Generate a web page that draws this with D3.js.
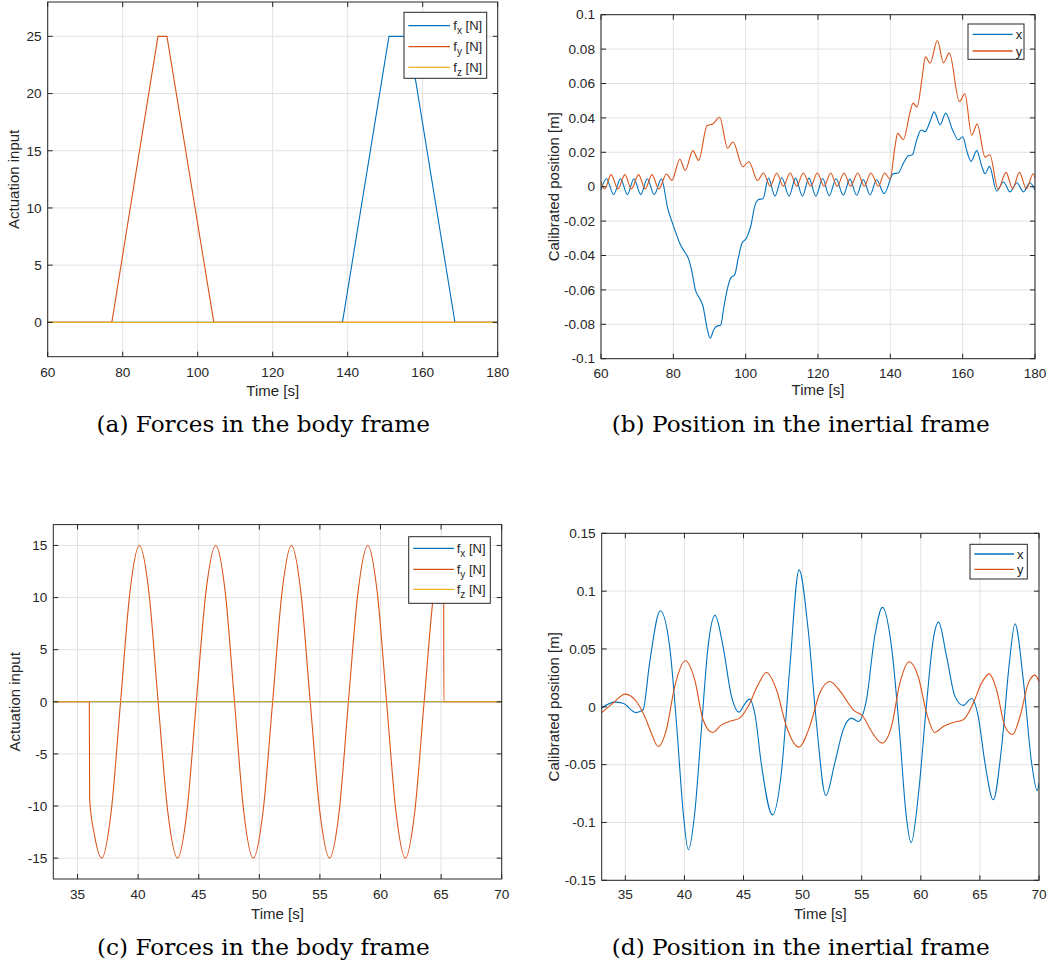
<!DOCTYPE html>
<html><head><meta charset="utf-8">
<script src="https://cdn.jsdelivr.net/npm/d3@7"></script>
<style>body{margin:0;background:#fff}svg{display:block}</style>
</head><body>
<svg id="chart" width="1055" height="967"></svg>
<script>
// ---------------- DATA ----------------
// Panel (a): forces in the body frame (time [s], force [N])
const aFx = [[60,0],[138.6,0],[151,25],[156.2,25],[168.6,0],[180,0]];
const aFy = [[60,0],[77.1,0],[89.4,25],[91.8,25],[104.3,0],[180,0]];
const aFz = [[60,0],[180,0]];

// Panel (b): position in the inertial frame (time [s], position [m])
const bX = [[60,-0.002],[61.5,0.0046],[63.5,-0.0046],[65.4,0.0046],[67.3,-0.0046],[69.1,0.0046],[71,-0.0046],[72.8,0.0046],[74.7,-0.0046],[76.7,0.0044],
 [78.5,-0.013],[79.4,-0.019],[80.4,-0.025],[81.8,-0.033],[83,-0.0375],[84.1,-0.0414],[85,-0.048],[86.1,-0.06],[87.3,-0.065],[88.2,-0.0695],[89.4,-0.083],[90.2,-0.088],
 [91.2,-0.083],[92.1,-0.081],[93.1,-0.0805],[94,-0.0695],[95.1,-0.058],[95.9,-0.053],[97,-0.051],[97.9,-0.042],[99,-0.0327],[100.2,-0.03],[101.4,-0.023],[102.5,-0.0114],
 [103.6,-0.0075],[104.8,-0.007],[106.3,0.005],[108.1,-0.0055],[110,0.0052],[112,-0.0055],[113.8,0.005],[115.7,-0.0055],[117.5,0.005],[119.4,-0.0055],[121.3,0.0048],
 [123.1,-0.0052],[125,0.0046],[127,-0.005],[128.8,0.0044],[130.7,-0.005],[132.5,0.0042],[134.4,-0.0048],[136.2,0.004],[138.3,-0.004],[140.8,0.0075],[142.2,0.008],
 [143.6,0.0137],[145,0.018],[146.1,0.0186],[147.3,0.0273],[148.5,0.033],[149.6,0.032],[151,0.038],[152.1,0.0435],[153.8,0.036],[155.3,0.0428],[157.2,0.033],
 [158.8,0.0273],[160,0.029],[161.3,0.0196],[162.3,0.0147],[163.9,0.021],[165.3,0.0118],[166.2,0.0075],[167.4,0.0118],[169.4,-0.0025],[171.3,0.0027],[173.1,-0.003],
 [175,0.0023],[176.8,-0.003],[178.6,0.0023],[180,-0.002]];
const bY = [[60,0.003],[61,-0.0013],[62.8,0.007],[64.7,-0.0013],[66.6,0.007],[68.4,-0.0013],[70.4,0.007],[72.2,-0.0013],[74.1,0.007],[76,-0.0013],[78.1,0.0074],
 [79.6,0.0037],[81.8,0.016],[83.3,0.0095],[85.4,0.021],[87,0.0153],[89.3,0.0354],[91,0.0366],[92.8,0.0404],[95,0.0224],[96.5,0.026],[99.2,0.0116],[100.9,0.0145],
 [103.3,0.0036],[104.9,0.008],[106.8,0.0003],[108.6,0.008],[110.4,0.0003],[112.3,0.008],[114.1,0.0003],[115.9,0.008],[118,0.0003],[119.8,0.008],[121.7,0.0003],
 [123.5,0.008],[125.3,0.0003],[127.2,0.008],[129,0.0003],[131,0.008],[132.8,0.0003],[134.6,0.008],[136.7,0.0003],[138.4,0.008],[139.9,0.0045],[141.3,0.0234],
 [142,0.031],[143.6,0.0273],[145.4,0.0428],[146.3,0.0486],[147.4,0.0463],[148.7,0.062],[149.7,0.0755],[151,0.0718],[153,0.085],[154.7,0.072],[156.3,0.0778],
 [159.1,0.0495],[160.6,0.054],[162.5,0.03],[164,0.0364],[166.2,0.0172],[167.5,0.0186],[169.8,-0.0015],[172,0.0083],[173.8,-0.0012],[175.7,0.0083],[177.6,-0.0012],
 [179.5,0.0075],[180,0.005]];

// Panel (c): forces in the body frame
const cFx = [[33,0],[70,0]];
const cFy = [[33,0],[35.97,0],[36,-9.4],[36.4,-12.8],[37,-15],[37.77,-10.6],[38.55,0],[39.33,10.6],[40.1,15],[40.88,10.6],[41.65,0],[42.45,-10.6],[43.25,-15],
 [44.02,-10.6],[44.8,0],[45.6,10.6],[46.4,15],[47.18,10.6],[47.95,0],[48.72,-10.6],[49.5,-15],[50.3,-10.6],[51.1,0],[51.88,10.6],[52.65,15],[53.42,10.6],[54.2,0],
 [55,-10.6],[55.8,-15],[56.58,-10.6],[57.35,0],[58.15,10.6],[58.95,15],[59.72,10.6],[60.5,0],[61.28,-10.6],[62.05,-15],[62.82,-10.6],[63.6,0],[64.4,10.6],
 [65.2,15],[65.23,0],[70,0]];
const cFz = [[33,0],[70,0]];

// Panel (d): position in the inertial frame
const dX = [[33,-0.001],[34.1,0.004],[34.8,0.003],[35.9,-0.005],[36.5,-0.0026],[37.05,0.0378],[37.96,0.083],[38.75,0.052],[39.37,-0.02],[39.9,-0.092],[40.33,-0.1236],
 [40.87,-0.092],[41.43,-0.02],[42,0.052],[42.59,0.079],[43.27,0.052],[43.98,0.009],[44.62,-0.0046],[45.05,0.0017],[45.5,0.0066],[46,-0.0084],[46.5,-0.049],
 [47.45,-0.0934],[48.2,-0.057],[48.9,0.032],[49.7,0.1184],[50.47,0.0666],[51.17,-0.014],[51.96,-0.0767],[52.72,-0.0487],[53.43,-0.0199],[54.14,-0.0098],
 [54.7,-0.0127],[55.4,0.006],[56.1,0.061],[56.76,0.086],[57.52,0.052],[58.23,-0.0256],[58.74,-0.0919],[59.19,-0.1173],[59.78,-0.0775],[60.49,0.003],[61.05,0.058],
 [61.5,0.0732],[62.18,0.0435],[62.89,0.009],[63.59,0.0012],[64.3,0.0072],[64.86,-0.0084],[65.43,-0.0487],[66.13,-0.0804],[66.84,-0.0343],[67.49,0.0378],
 [67.97,0.0718],[68.67,0.0233],[69.38,-0.0487],[69.85,-0.0725],[70,-0.066]];
const dY = [[33,-0.005],[33.96,0.0032],[35,0.011],[35.93,0.0046],[36.64,-0.0084],[37.2,-0.0228],[37.77,-0.0343],[38.47,-0.0199],[39.18,0.0176],[40.08,0.0398],
 [40.87,0.0233],[41.58,-0.0112],[42.37,-0.0222],[43.13,-0.0156],[43.98,-0.0121],[44.68,-0.0098],[45.39,0.0003],[46.23,0.019],[46.94,0.0297],[47.79,0.0147],
 [48.63,-0.017],[49.68,-0.0349],[50.6,-0.017],[51.45,0.0118],[52.3,0.0219],[53.29,0.0118],[54.28,-0.0026],[55.12,-0.0084],[55.83,-0.0213],[56.73,-0.0314],
 [57.52,-0.017],[58.23,0.0205],[59.02,0.0389],[59.78,0.0262],[60.49,-0.0055],[61.19,-0.0222],[61.9,-0.017],[62.75,-0.0135],[63.59,-0.0112],[64.44,0.0032],
 [65.14,0.0205],[65.79,0.0285],[66.41,0.0147],[67.12,-0.017],[67.77,-0.0239],[68.39,-0.0084],[69.1,0.0205],[69.66,0.0274],[70,0.0219]];

// Tick values
const aXTicks = [60,80,100,120,140,160,180];
const aYTicks = [0,5,10,15,20,25];
const bXTicks = [60,80,100,120,140,160,180];
const bYTicks = [-0.1,-0.08,-0.06,-0.04,-0.02,0,0.02,0.04,0.06,0.08,0.1];
const cXTicks = [35,40,45,50,55,60,65,70];
const cYTicks = [-15,-10,-5,0,5,10,15];
const dXTicks = [35,40,45,50,55,60,65,70];
const dYTicks = [-0.15,-0.1,-0.05,0,0.05,0.1,0.15];

// Texts
const forceLegend = ["x","y","z"];
const posLegend = ["x","y"];
const captions = ["(a) Forces in the body frame","(b) Position in the inertial frame","(c) Forces in the body frame","(d) Position in the inertial frame"];

// ---------------- DRAWING ----------------
const BLUE="#0072BD", ORANGE="#D95319", YELLOW="#EDB120";
const INK="#262626", GRID="#e2e2e2";
const SANS="'Liberation Sans', Arial, Helvetica, sans-serif";
const svg = d3.select("#chart");
const fmt = v => String(+v.toFixed(4));

function panel(cfg, idx){
  const g = svg.append("g");
  const x = d3.scaleLinear().domain(cfg.xDomain).range([cfg.box.x0, cfg.box.x1]);
  const y = d3.scaleLinear().domain(cfg.yDomain).range([cfg.box.y1, cfg.box.y0]);
  const {x0,x1,y0,y1} = cfg.box;

  // grid
  g.selectAll(".gx").data(cfg.xTicks).join("line")
    .attr("x1",d=>x(d)).attr("x2",d=>x(d)).attr("y1",y0).attr("y2",y1)
    .attr("stroke",GRID).attr("stroke-width",1);
  g.selectAll(".gy").data(cfg.yTicks).join("line")
    .attr("y1",d=>y(d)).attr("y2",d=>y(d)).attr("x1",x0).attr("x2",x1)
    .attr("stroke",GRID).attr("stroke-width",1);

  // data
  const clipId = "clip"+idx;
  svg.append("clipPath").attr("id",clipId).append("rect")
    .attr("x",x0).attr("y",y0).attr("width",x1-x0).attr("height",y1-y0);
  const line = d3.line().x(d=>x(d[0])).y(d=>y(d[1])).curve(cfg.curve);
  cfg.series.forEach(s=>{
    g.append("path").attr("d",line(s.data)).attr("fill","none")
      .attr("stroke",s.color).attr("stroke-width",1.1)
      .attr("clip-path",`url(#${clipId})`);
  });

  // ticks (inside, all four sides)
  const TL=5;
  const tk = g.append("g").attr("stroke",INK).attr("stroke-width",1);
  cfg.xTicks.forEach(t=>{
    tk.append("line").attr("x1",x(t)).attr("x2",x(t)).attr("y1",y1).attr("y2",y1-TL);
    tk.append("line").attr("x1",x(t)).attr("x2",x(t)).attr("y1",y0).attr("y2",y0+TL);
  });
  cfg.yTicks.forEach(t=>{
    tk.append("line").attr("y1",y(t)).attr("y2",y(t)).attr("x1",x0).attr("x2",x0+TL);
    tk.append("line").attr("y1",y(t)).attr("y2",y(t)).attr("x1",x1).attr("x2",x1-TL);
  });
  // box
  g.append("rect").attr("x",x0).attr("y",y0).attr("width",x1-x0).attr("height",y1-y0)
    .attr("fill","none").attr("stroke",INK).attr("stroke-width",1);

  // tick labels
  g.selectAll(".xl").data(cfg.xTicks).join("text")
    .attr("x",d=>x(d)).attr("y",cfg.xTickY).attr("text-anchor","middle")
    .attr("font-family",SANS).attr("font-size",13.6).attr("fill",INK).text(fmt);
  g.selectAll(".yl").data(cfg.yTicks).join("text")
    .attr("x",x0-6).attr("y",d=>y(d)).attr("dy","0.35em").attr("text-anchor","end")
    .attr("font-family",SANS).attr("font-size",13.6).attr("fill",INK).text(fmt);

  // axis labels
  g.append("text").attr("x",(x0+x1)/2).attr("y",cfg.xLabelY).attr("text-anchor","middle")
    .attr("font-family",SANS).attr("font-size",15).attr("fill",INK).text("Time [s]");
  g.append("text").attr("transform",`translate(${cfg.yLabelX},${(y0+y1)/2}) rotate(-90)`)
    .attr("dy","0.35em").attr("text-anchor","middle")
    .attr("font-family",SANS).attr("font-size",15).attr("fill",INK).text(cfg.yLabel);

  // legend
  const L = cfg.legend;
  const lg = g.append("g");
  lg.append("rect").attr("x",L.x).attr("y",L.y).attr("width",L.w).attr("height",L.h)
    .attr("fill","#fff").attr("stroke",INK).attr("stroke-width",1);
  L.items.forEach((it,i)=>{
    const yy = L.rows[i];
    lg.append("line").attr("x1",L.lx0).attr("x2",L.lx1).attr("y1",yy).attr("y2",yy)
      .attr("stroke",cfg.series[i].color).attr("stroke-width",1.3);
    const t = lg.append("text").attr("x",L.tx).attr("y",yy+4.5)
      .attr("font-family",SANS).attr("font-size",13).attr("fill",INK);
    if (L.force){
      t.append("tspan").text("f");
      t.append("tspan").attr("dy",4).attr("font-size",10).text(it);
      t.append("tspan").attr("dy",-4).text(" [N]");
    } else {
      t.text(it);
    }
  });

  // caption
  svg.append("text").attr("x",cfg.caption.x).attr("y",cfg.caption.y).attr("text-anchor","middle")
    .attr("font-family","'DejaVu Serif', serif").attr("font-size",23.2).attr("fill","#000")
    .text(cfg.caption.text);
}

const smooth = d3.curveMonotoneX;

panel({
  box:{x0:47.7,x1:497.7,y0:2,y1:356.7}, xDomain:[60,180], yDomain:[-3,28],
  xTicks:aXTicks, yTicks:aYTicks, xTickY:376.5, xLabelY:395.5, yLabelX:14,
  yLabel:"Actuation input", curve:d3.curveLinear,
  series:[{data:aFx,color:BLUE},{data:aFy,color:ORANGE},{data:aFz,color:YELLOW}],
  legend:{x:404,y:12.3,w:82.7,h:66,rows:[25.7,46.7,67.3],lx0:408.3,lx1:450,tx:453.3,items:forceLegend,force:true},
  caption:{x:263.3,y:431.7,text:captions[0]}
},0);

panel({
  box:{x0:601,x1:1035,y0:14.7,y1:358.7}, xDomain:[60,180], yDomain:[-0.1,0.1],
  xTicks:bXTicks, yTicks:bYTicks, xTickY:377.5, xLabelY:395.3, yLabelX:553.3,
  yLabel:"Calibrated position [m]", curve:smooth,
  series:[{data:bX,color:BLUE},{data:bY,color:ORANGE}],
  legend:{x:968,y:24,w:56,h:35.3,rows:[34.3,51],lx0:972.7,lx1:1012.7,tx:1015.7,items:posLegend,force:false},
  caption:{x:800.7,y:431.7,text:captions[1]}
},1);

panel({
  box:{x0:53.3,x1:501.7,y0:524.6,y1:879}, xDomain:[33,70], yDomain:[-17,17],
  xTicks:cXTicks, yTicks:cYTicks, xTickY:899.1, xLabelY:918.6, yLabelX:15,
  yLabel:"Actuation input", curve:smooth,
  series:[{data:cFx,color:BLUE},{data:cFy,color:ORANGE},{data:cFz,color:YELLOW}],
  legend:{x:408.7,y:536.7,w:81.6,h:66.6,rows:[548.3,569.3,589.3],lx0:413.3,lx1:454,tx:456.7,items:forceLegend,force:true},
  caption:{x:263.3,y:955,text:captions[2]}
},2);

panel({
  box:{x0:601.7,x1:1039,y0:533.3,y1:880.3}, xDomain:[33,70], yDomain:[-0.15,0.15],
  xTicks:dXTicks, yTicks:dYTicks, xTickY:899.1, xLabelY:918.6, yLabelX:553.3,
  yLabel:"Calibrated position [m]", curve:smooth,
  series:[{data:dX,color:BLUE},{data:dY,color:ORANGE}],
  legend:{x:970,y:544.3,w:57.3,h:34.7,rows:[554,569.3],lx0:974.3,lx1:1014,tx:1017,items:posLegend,force:false},
  caption:{x:800.8,y:955,text:captions[3]}
},3);
</script>
</body></html>
